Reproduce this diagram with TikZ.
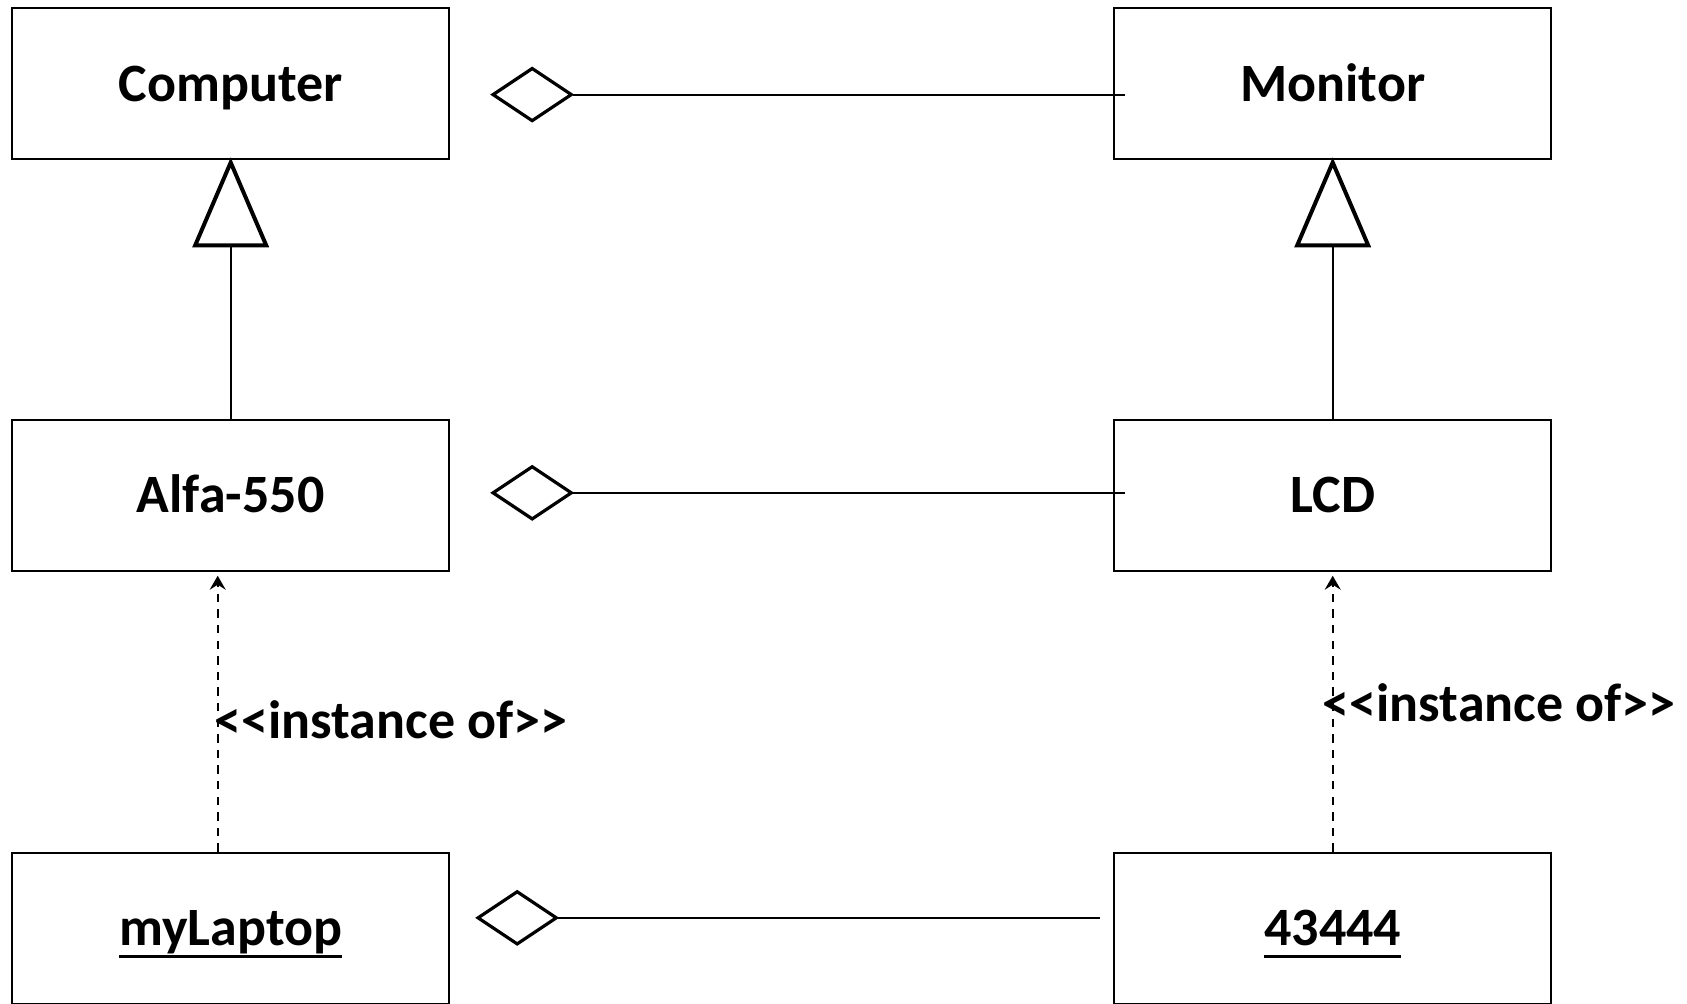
\documentclass[tikz,border=0pt]{standalone}
\usepackage{fontspec}
\setmainfont{Carlito}
\usetikzlibrary{arrows.meta,positioning}

\newcommand{\objname}[1]{\setbox0\hbox{#1}\rlap{\rule[-6pt]{\wd0}{1.5pt}}\box0}
\newcommand{\stereotext}{<\kern0pt<instance of>\kern0pt>}

\begin{document}
\begin{tikzpicture}[
      font=\fontsize{27}{32}\selectfont\bfseries,
      cls/.style={draw, line width=1pt, minimum width=218.5pt, minimum height=75.5pt,
                  inner sep=0pt, text height=19pt, text depth=1.5pt},
      gen/.style={-{Triangle[open, length=45pt, width=38pt, line width=2pt]}, line width=1pt,
                  shorten >=-1.5pt},
      aggr/.style={-{Diamond[open, length=42pt, width=28pt, line width=1.6pt]}, line width=1pt},
      inst/.style={-{Stealth[length=7pt, width=8pt, inset=2.5pt]}, line width=0.8pt,
                   dash pattern=on 4.2pt off 3.6pt, shorten >=2pt},
      stereo/.style={anchor=base west, inner sep=0pt},
    ]
    \useasboundingbox (0,0) rectangle (843.5pt,-501.5pt);
    \clip (0,0) rectangle (843.5pt,-501.5pt);
    \node[cls, anchor=north west] (comp) at (5.6pt,-3.65pt) {Computer};
    \node[cls, right=331.5pt of comp] (mon) {Monitor};
    \node[cls, below=129.2pt of comp] (alfa) {Alfa-550};
    \node[cls, below=129.2pt of mon] (lcd) {LCD};
    \node[cls, below=140pt of alfa] (lap) {\objname{myLaptop}};
    \node[cls, below=140pt of lcd] (num) {\objname{43444}};
    % generalisation
    \draw[gen] (alfa) -- (comp);
    \draw[gen] (lcd) -- (mon);
    % aggregation
    \coordinate (d1) at ([shift={(20pt,-5.4pt)}]comp.east);
    \coordinate (d2) at ([shift={(20pt,1.2pt)}]alfa.east);
    \coordinate (d3) at ([shift={(12.5pt,5.2pt)}]lap.east);
    \draw[aggr] ([shift={(6pt,-5.4pt)}]mon.west) -- (d1);
    \draw[aggr] ([shift={(6pt,1.2pt)}]lcd.west) -- (d2);
    \draw[aggr] ([shift={(-6.5pt,5.2pt)}]num.west) -- (d3);
    % instances
    \draw[inst] ([xshift=-6.5pt]lap.north) -- node[stereo, pos=0.406, xshift=-2pt]
      {\stereotext} ([xshift=-6.5pt]alfa.south);
    \draw[inst] (num) -- node[stereo, pos=0.464, xshift=-5.3pt]
      {\stereotext} (lcd);
  \end{tikzpicture}
\end{document}
